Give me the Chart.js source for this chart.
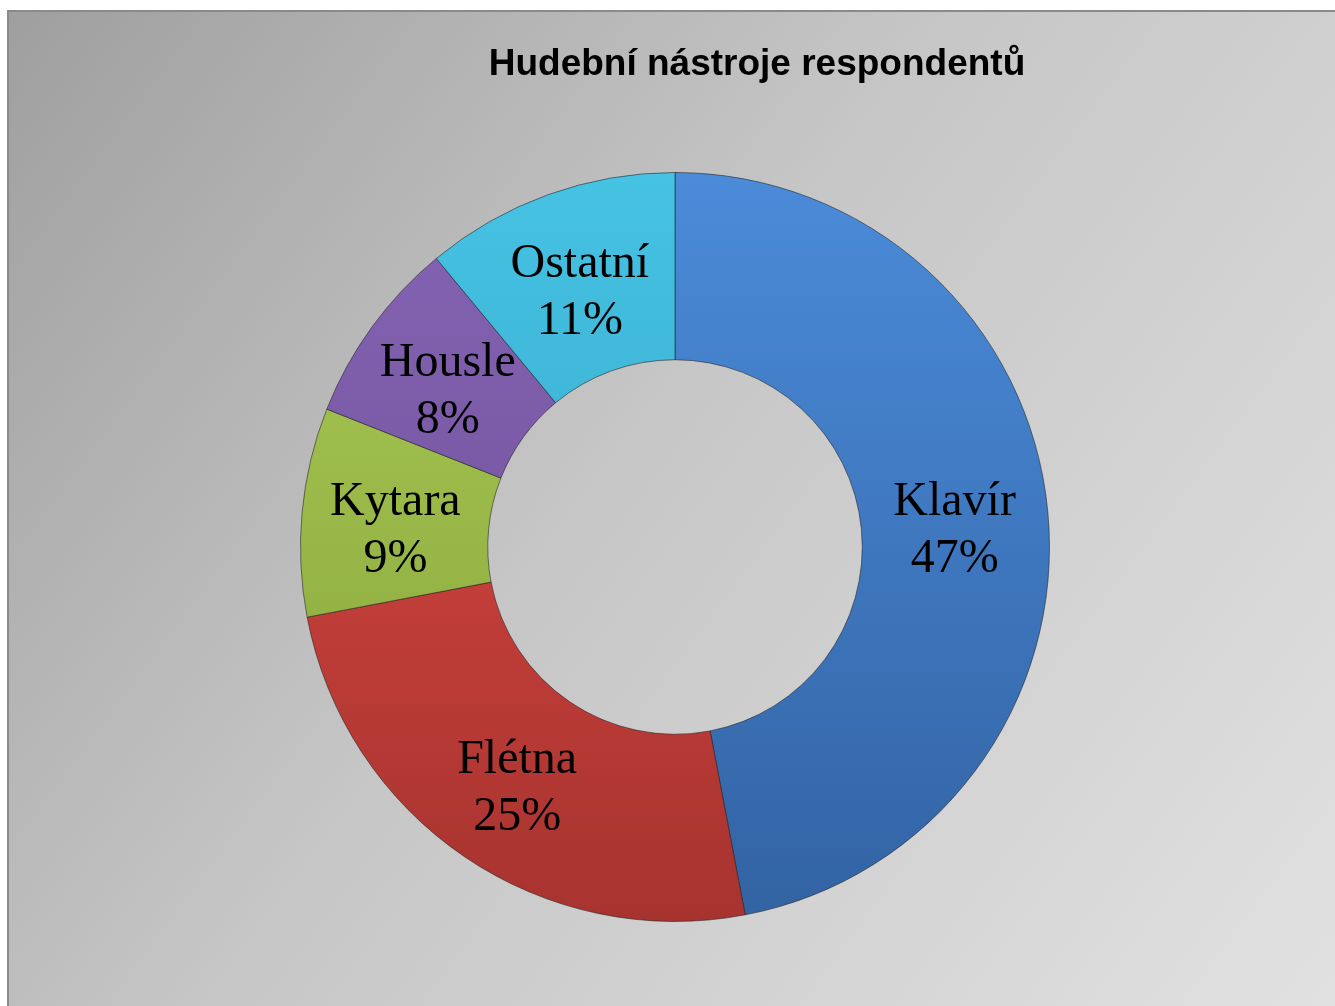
<!DOCTYPE html>
<html>
<head>
<meta charset="utf-8">
<script src="https://cdn.jsdelivr.net/npm/chart.js@4/dist/chart.umd.min.js"></script>
<style>
  html, body { margin: 0; padding: 0; background: #ffffff; overflow: hidden; }
  #wrap { position: absolute; left: 0; top: 0; width: 1335px; height: 1006px; }
</style>
</head>
<body>
<div id="wrap"><canvas id="c" width="1335" height="1006"></canvas></div>
<script>
const titleText = "Hudební nástroje respondentů";
const categories = ["Klavír", "Flétna", "Kytara", "Housle", "Ostatní"];
const values = [47, 25, 9, 8, 11];
const topColors = ["#4b8bd9", "#e24b45", "#a9ca55", "#8565b4", "#46c2e3"];
const bottomColors = ["#3263a3", "#a7332f", "#86a33a", "#6a4b93", "#30a0c2"];

function segGradient(ctx) {
  const chart = ctx.chart;
  const area = chart.chartArea;
  if (!area) return topColors[ctx.dataIndex];
  const g = chart.ctx.createLinearGradient(0, area.top, 0, area.bottom);
  g.addColorStop(0, topColors[ctx.dataIndex]);
  g.addColorStop(1, bottomColors[ctx.dataIndex]);
  return g;
}

const bgPlugin = {
  id: 'bg',
  beforeDraw(chart) {
    const c = chart.ctx;
    const W = chart.width, H = chart.height;
    c.save();
    c.fillStyle = '#ffffff';
    c.fillRect(0, 0, W, H);
    const g = c.createLinearGradient(8, 10, W, H);
    g.addColorStop(0, '#9f9f9f');
    g.addColorStop(0.45, '#c6c6c6');
    g.addColorStop(1, '#e1e1e1');
    c.fillStyle = g;
    c.fillRect(8, 10, W - 8, H - 10);
    c.strokeStyle = '#8a8a8a';
    c.lineWidth = 2;
    c.beginPath();
    c.moveTo(8, H);
    c.lineTo(8, 11);
    c.lineTo(W, 11);
    c.stroke();
    // title
    c.fillStyle = '#000000';
    c.textAlign = 'center';
    c.textBaseline = 'alphabetic';
    c.font = 'bold 37px "Liberation Sans", sans-serif';
    c.fillText(titleText, 757, 75);
    c.restore();
  }
};

const labelPlugin = {
  id: 'segLabels',
  afterDatasetsDraw(chart) {
    const c = chart.ctx;
    const meta = chart.getDatasetMeta(0);
    const total = values.reduce((a, b) => a + b, 0);
    c.save();
    c.fillStyle = '#000000';
    c.textAlign = 'center';
    c.textBaseline = 'alphabetic';
    c.font = '48px "Liberation Serif", "Times New Roman", serif';
    meta.data.forEach((arc, i) => {
      const p = arc.tooltipPosition();
      const pct = Math.round(values[i] / total * 100) + '%';
      c.fillText(categories[i], p.x, p.y - 6);
      c.fillText(pct, p.x, p.y + 51);
    });
    c.restore();
  }
};

new Chart(document.getElementById('c'), {
  type: 'doughnut',
  data: {
    labels: categories,
    datasets: [{
      data: values,
      backgroundColor: segGradient,
      borderColor: 'rgba(30,30,30,0.55)',
      borderWidth: 1
    }]
  },
  options: {
    responsive: false,
    animation: false,
    cutout: '50%',
    layout: { padding: { left: 300, right: 285, top: 172, bottom: 84 } },
    plugins: {
      legend: { display: false },
      tooltip: { enabled: false },
      title: { display: false }
    }
  },
  plugins: [bgPlugin, labelPlugin]
});
</script>
</body>
</html>
